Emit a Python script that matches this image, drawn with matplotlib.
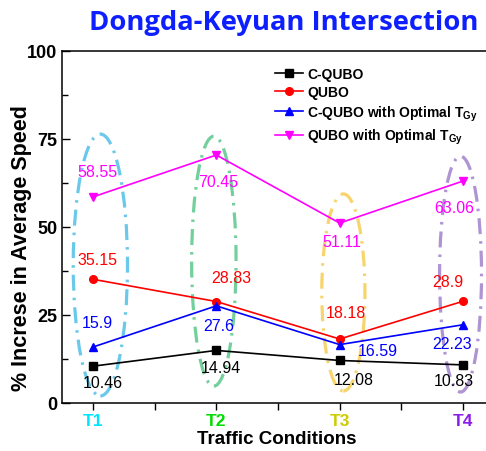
import matplotlib
matplotlib.use("Agg")
import matplotlib.pyplot as plt
from matplotlib.patches import Ellipse
from matplotlib.ticker import MultipleLocator

plt.rcParams['font.family'] = ['Liberation Sans', 'DejaVu Sans']
plt.rcParams['mathtext.fontset'] = 'custom'
plt.rcParams['mathtext.rm'] = 'Liberation Sans'
plt.rcParams['mathtext.bf'] = 'Liberation Sans:bold'

# данные
conditions = ["T1", "T2", "T3", "T4"]
x_pos = [1, 2, 3, 4]
c_qubo = [10.46, 14.94, 12.08, 10.83]
qubo = [35.15, 28.83, 18.18, 28.9]
c_qubo_opt = [15.9, 27.6, 16.59, 22.23]
qubo_opt = [58.55, 70.45, 51.11, 63.06]

series_names = ["C-QUBO", "QUBO",
                r"C-QUBO with Optimal T$_{\mathbf{Gy}}$",
                r"QUBO with Optimal T$_{\mathbf{Gy}}$"]
series_colors = ["black", "#ff0000", "#0000ff", "#ff00ff"]
series_markers = ["s", "o", "^", "v"]

# смещения подписей (пиксели)
label_offsets = [
    [(10, -16), (5, -17), (14, -19), (-9, -16)],
    [(4, 20), (15, 24), (6, 27), (-15, 20)],
    [(4, 25), (2, -20), (38, -6), (-11, -19)],
    [(4, 25), (2, -26), (2, -18), (-9, -26)],
]

tick_colors = ["#00e5ff", "#00dd00", "#cccc00", "#8a1ee8"]

# эллипсы: центр x, центр y, ширина, высота
ellipse_params = [
    (1.06, 39.2, 0.44, 74.4),
    (1.98, 40.3, 0.36, 71.0),
    (3.03, 31.4, 0.35, 56.0),
    (3.98, 36.6, 0.34, 67.0),
]
ellipse_colors = ["#6ac9eb", "#73cf9c", "#f7d56c", "#ae94d2"]

fig = plt.figure(figsize=(4.86, 4.52), dpi=100)
ax = fig.add_axes([62 / 486, 48 / 452, 430 / 486, 352 / 452])

for (cx, cy, w, h), col in zip(ellipse_params, ellipse_colors):
    ax.add_patch(Ellipse((cx, cy), w, h, fill=False, edgecolor=col, lw=2.3,
                         linestyle=(0, (5, 2.2, 0.8, 2.2)), zorder=1))

all_series = [c_qubo, qubo, c_qubo_opt, qubo_opt]
for vals, name, col, mk, offs in zip(all_series, series_names, series_colors,
                                     series_markers, label_offsets):
    ax.plot(x_pos, vals, color=col, marker=mk, markersize=6 if mk in "^v" else 5.5,
            lw=1.2, label=name, zorder=3)
    for xv, yv, off in zip(x_pos, vals, offs):
        ax.annotate(f"{yv:g}", (xv, yv), xytext=off, textcoords="offset pixels",
                    ha="center", va="center", color=col, fontsize=11.5, zorder=4)

ax.set_xlim(0.749, 4.235)
ax.set_ylim(0, 100)
ax.set_xticks(x_pos)
ax.set_xticklabels(conditions, fontsize=12.5, fontweight="bold")
for lbl, col in zip(ax.get_xticklabels(), tick_colors):
    lbl.set_color(col)
ax.xaxis.set_minor_locator(MultipleLocator(0.5))
ax.yaxis.set_major_locator(MultipleLocator(25))
ax.yaxis.set_minor_locator(MultipleLocator(12.5))
ax.tick_params(axis="x", which="both", direction="out", length=5, width=1, pad=2)
ax.tick_params(axis="y", which="major", direction="in", length=6, width=1, labelsize=13)
ax.tick_params(axis="y", which="minor", direction="in", length=4, width=1)
for lbl in ax.get_yticklabels():
    lbl.set_fontweight("bold")
ax.spines["right"].set_visible(False)
for s in ["left", "bottom", "top"]:
    ax.spines[s].set_linewidth(1.1)

ax.set_xlabel("Traffic Conditions", fontsize=13.5, fontweight="bold", labelpad=2)
ax.set_ylabel("% Increse in Average Speed", fontsize=15.5, fontweight="bold")
ax.yaxis.set_label_coords(-40 / 430, 0.443)
ax.yaxis.label.set_va("center")

ax.legend(loc="upper left", bbox_to_anchor=(275 / 486, 1 - 68 / 452),
          bbox_transform=fig.transFigure, frameon=False, borderpad=0,
          borderaxespad=0, handlelength=2.0, handletextpad=0.3, labelspacing=0.3,
          prop={"weight": "bold", "size": 10})

fig.text(284 / 486, 1 - 23 / 452, "Dongda-Keyuan Intersection", ha="center", va="center",
         fontsize=19.7, fontweight="bold", color="#0d1fff", family="Open Sans")

fig.savefig("out.png", dpi=100)
